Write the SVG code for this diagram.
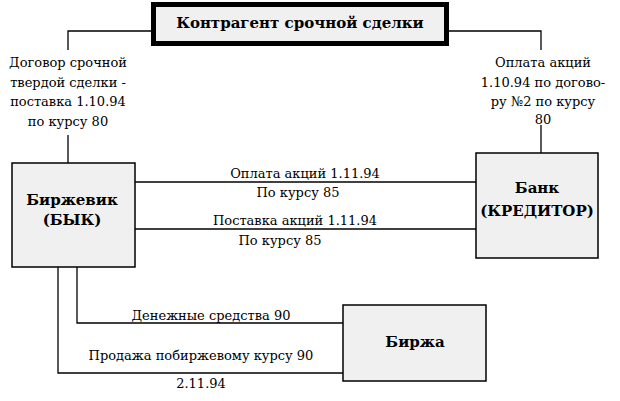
<svg xmlns="http://www.w3.org/2000/svg" width="620" height="401" viewBox="0 0 620 401">
<style>
.box{fill:#f0f0f0;stroke:#000;stroke-width:1.5}
.big{fill:#f0f0f0;stroke:#000;stroke-width:5}
text{font-family:'DejaVu Serif',serif;fill:#000}
.t{font-size:13px}
.b{font-size:15px;font-weight:bold}
.c{text-anchor:middle}
.ln{fill:none;stroke:#000;stroke-width:1.3}
</style>
<rect width="620" height="401" fill="#fff"/>
<g id="connectors">
<polyline class="ln" points="151,31 68,31 68,50"/>
<line class="ln" x1="68" y1="135" x2="68" y2="163"/>
<polyline class="ln" points="449,31 541,31 541,50"/>
<line class="ln" x1="541" y1="125" x2="541" y2="153"/>
<line class="ln" x1="135" y1="182" x2="476" y2="182"/>
<line class="ln" x1="135" y1="229" x2="476" y2="229"/>
<polyline class="ln" points="77,267 77,323 343,323"/>
<polyline class="ln" points="58,267 58,373 343,373"/>
<text class="t c" x="68" y="67">Договор срочной</text>
<text class="t c" x="68" y="87">твердой сделки -</text>
<text class="t c" x="68" y="106">поставка 1.10.94</text>
<text class="t c" x="68" y="126">по курсу 80</text>
<text class="t c" x="543" y="67">Оплата акций</text>
<text class="t c" x="543" y="87">1.10.94 по догово-</text>
<text class="t c" x="543" y="106">ру  №2 по курсу</text>
<text class="t c" x="543" y="124">80</text>
<text class="t c" x="305" y="178">Оплата акций 1.11.94</text>
<text class="t c" x="298" y="197">По курсу 85</text>
<text class="t c" x="295" y="225">Поставка акций 1.11.94</text>
<text class="t c" x="280" y="245">По курсу 85</text>
<text class="t c" x="211" y="320">Денежные средства 90</text>
<text class="t c" x="201" y="360">Продажа побиржевому курсу 90</text>
<text class="t c" x="201" y="388">2.11.94</text>
</g>
<g id="kontragent">
<rect class="big" x="153.5" y="4.5" width="293" height="39"/>
<text class="b c" x="300" y="28">Контрагент срочной сделки</text>
</g>
<g id="birzhevik">
<rect class="box" x="12" y="163" width="123" height="104"/>
<text class="b c" x="72" y="205">Биржевик</text>
<text class="b c" x="72" y="225">(БЫК)</text>
</g>
<g id="bank">
<rect class="box" x="476" y="153" width="122" height="105"/>
<text class="b c" x="537" y="193">Банк</text>
<text class="b c" x="537" y="216">(КРЕДИТОР)</text>
</g>
<g id="birzha">
<rect class="box" x="343" y="305" width="143" height="76"/>
<text class="b c" x="415" y="347">Биржа</text>
</g>
</svg>
